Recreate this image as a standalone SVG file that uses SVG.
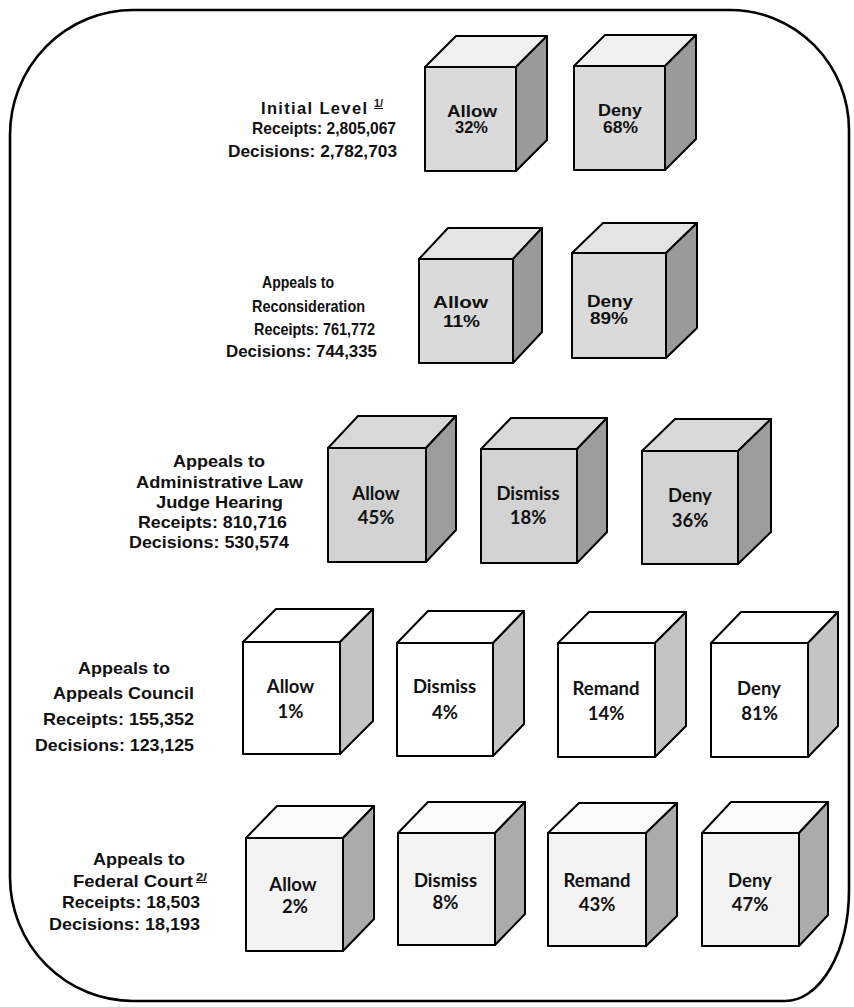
<svg xmlns="http://www.w3.org/2000/svg" width="854" height="1007" viewBox="0 0 854 1007">
<style>
.lbl{font-family:"Liberation Sans",Arial,sans-serif;font-weight:bold;fill:#111;}
.l17{font-size:17px;}
.l16{font-size:16.5px;}
.sup{font-family:"Liberation Sans",Arial,sans-serif;font-weight:bold;font-size:10px;text-decoration:underline;fill:#111;}
.ca{font-family:"Liberation Sans",Arial,sans-serif;font-weight:bold;font-size:16px;fill:#111;}
.ct{font-family:Lato,"Liberation Sans",sans-serif;font-weight:bold;font-size:18.5px;text-anchor:middle;fill:#111;}
.e{stroke:#000;stroke-width:2;stroke-linejoin:round;}
.f1{fill:#dadada}.t1{fill:#f0f0f0}.t2{fill:#e4e4e4}.r1{fill:#9a9a9a}
.f3{fill:#d2d2d2}.t3{fill:#d8d8d8}.r3{fill:#9c9c9c}
.f4{fill:#ffffff}.t4{fill:#ffffff}.r4{fill:#c4c4c4}
.f5{fill:#f3f3f3}.t5{fill:#fbfbfb}.r5{fill:#ababab}
.frame{fill:none;stroke:#000;stroke-width:2.6;}
</style>
<rect width="854" height="1007" fill="#fff"/>
<path class="frame" d="M133,10 L730,10 A119,120 0 0 1 849,130 L849,890 A64,111 0 0 1 785,1001 L133,1001 A123,124 0 0 1 10,877 L10,135 A123,125 0 0 1 133,10 Z"/>
<g id="connectors"/>

<!-- Row labels -->
<g id="label-initial" class="lbl l16">
<text x="261" y="114" textLength="106" lengthAdjust="spacing">Initial Level</text>
<text class="sup" x="374" y="107" textLength="9" lengthAdjust="spacingAndGlyphs">1/</text>
<text x="252" y="134" textLength="144" lengthAdjust="spacingAndGlyphs">Receipts:  2,805,067</text>
<text x="228" y="157" textLength="169" lengthAdjust="spacingAndGlyphs">Decisions:  2,782,703</text>
</g>
<g id="label-reconsideration" class="lbl l16">
<text x="262" y="288" textLength="72" lengthAdjust="spacingAndGlyphs">Appeals to</text>
<text x="252" y="312" textLength="113" lengthAdjust="spacingAndGlyphs">Reconsideration</text>
<text x="254" y="335" textLength="121" lengthAdjust="spacingAndGlyphs">Receipts: 761,772</text>
<text x="226" y="357" textLength="151" lengthAdjust="spacingAndGlyphs">Decisions: 744,335</text>
</g>
<g id="label-alj" class="lbl l16">
<text x="173" y="467" textLength="92" lengthAdjust="spacingAndGlyphs">Appeals to</text>
<text x="136" y="488" textLength="167" lengthAdjust="spacingAndGlyphs">Administrative Law</text>
<text x="156" y="508" textLength="127" lengthAdjust="spacingAndGlyphs">Judge Hearing</text>
<text x="138" y="528" textLength="149" lengthAdjust="spacingAndGlyphs">Receipts:  810,716</text>
<text x="129" y="548" textLength="160" lengthAdjust="spacingAndGlyphs">Decisions:  530,574</text>
</g>
<g id="label-council" class="lbl l17">
<text x="78" y="674" textLength="92" lengthAdjust="spacingAndGlyphs">Appeals to</text>
<text x="53" y="699" textLength="141" lengthAdjust="spacingAndGlyphs">Appeals Council</text>
<text x="43" y="725" textLength="151" lengthAdjust="spacingAndGlyphs">Receipts:  155,352</text>
<text x="35" y="751" textLength="159" lengthAdjust="spacingAndGlyphs">Decisions:  123,125</text>
</g>
<g id="label-court" class="lbl l17">
<text x="93" y="865" textLength="92" lengthAdjust="spacingAndGlyphs">Appeals to</text>
<text x="73" y="887" textLength="120" lengthAdjust="spacingAndGlyphs">Federal Court</text>
<text class="sup" x="196" y="881" textLength="11" lengthAdjust="spacingAndGlyphs">2/</text>
<text x="62" y="908" textLength="138" lengthAdjust="spacingAndGlyphs">Receipts:  18,503</text>
<text x="49" y="930" textLength="151" lengthAdjust="spacingAndGlyphs">Decisions:  18,193</text>
</g>

<!-- Row 1 -->
<g id="initial-allow">
<rect class="e f1" x="425" y="67" width="91" height="104"/>
<polygon class="e t1" points="425,67 456,36 547,36 516,67"/>
<polygon class="e r1" points="516,67 547,36 547,140 516,171"/>
<text class="ca" x="447" y="117" textLength="50" lengthAdjust="spacingAndGlyphs">Allow</text>
<text class="ca" x="455" y="133" textLength="33" lengthAdjust="spacingAndGlyphs">32%</text>
</g>
<g id="initial-deny">
<rect class="e f1" x="574" y="66" width="91" height="104"/>
<polygon class="e t1" points="574,66 605,35 696,35 665,66"/>
<polygon class="e r1" points="665,66 696,35 696,139 665,170"/>
<text class="ca" x="598" y="116" textLength="44" lengthAdjust="spacingAndGlyphs">Deny</text>
<text class="ca" x="603" y="133" textLength="35" lengthAdjust="spacingAndGlyphs">68%</text>
</g>

<!-- Row 2 -->
<g id="recon-allow">
<rect class="e f1" x="419" y="259" width="94" height="104"/>
<polygon class="e t2" points="419,259 448,228 542,228 513,259"/>
<polygon class="e r1" points="513,259 542,228 542,332 513,363"/>
<text class="ca" x="433" y="308" textLength="55" lengthAdjust="spacingAndGlyphs">Allow</text>
<text class="ca" x="443" y="327" textLength="37" lengthAdjust="spacingAndGlyphs">11%</text>
</g>
<g id="recon-deny">
<rect class="e f1" x="572" y="253" width="94" height="105"/>
<polygon class="e t2" points="572,253 603,223 697,223 666,253"/>
<polygon class="e r1" points="666,253 697,223 697,328 666,358"/>
<text class="ca" x="587" y="307" textLength="46" lengthAdjust="spacingAndGlyphs">Deny</text>
<text class="ca" x="590" y="324" textLength="38" lengthAdjust="spacingAndGlyphs">89%</text>
</g>

<!-- Row 3 -->
<g id="alj-allow">
<rect class="e f3" x="328" y="448" width="98" height="114"/>
<polygon class="e t3" points="328,448 358,416 456,416 426,448"/>
<polygon class="e r3" points="426,448 456,416 456,530 426,562"/>
<text class="ct" x="376" y="500">Allow</text>
<text class="ct" x="376" y="524">45%</text>
</g>
<g id="alj-dismiss">
<rect class="e f3" x="481" y="449" width="96" height="114"/>
<polygon class="e t3" points="481,449 511,418 607,418 577,449"/>
<polygon class="e r3" points="577,449 607,418 607,532 577,563"/>
<text class="ct" x="528" y="500">Dismiss</text>
<text class="ct" x="528" y="524">18%</text>
</g>
<g id="alj-deny">
<rect class="e f3" x="642" y="451" width="96" height="113"/>
<polygon class="e t3" points="642,451 675,419 771,419 738,451"/>
<polygon class="e r3" points="738,451 771,419 771,532 738,564"/>
<text class="ct" x="690" y="502">Deny</text>
<text class="ct" x="690" y="527">36%</text>
</g>

<!-- Row 4 -->
<g id="council-allow">
<rect class="e f4" x="243" y="642" width="97" height="112"/>
<polygon class="e t4" points="243,642 276,609 373,609 340,642"/>
<polygon class="e r4" points="340,642 373,609 373,721 340,754"/>
<text class="ct" x="290.5" y="693">Allow</text>
<text class="ct" x="290.5" y="718">1%</text>
</g>
<g id="council-dismiss">
<rect class="e f4" x="397" y="643" width="96" height="113"/>
<polygon class="e t4" points="397,643 428,611 524,611 493,643"/>
<polygon class="e r4" points="493,643 524,611 524,724 493,756"/>
<text class="ct" x="444.5" y="693">Dismiss</text>
<text class="ct" x="445" y="719">4%</text>
</g>
<g id="council-remand">
<rect class="e f4" x="558" y="643" width="97" height="114"/>
<polygon class="e t4" points="558,643 589,612 686,612 655,643"/>
<polygon class="e r4" points="655,643 686,612 686,726 655,757"/>
<text class="ct" x="606" y="695">Remand</text>
<text class="ct" x="606" y="720">14%</text>
</g>
<g id="council-deny">
<rect class="e f4" x="711" y="643" width="97" height="114"/>
<polygon class="e t4" points="711,643 741,612 838,612 808,643"/>
<polygon class="e r4" points="808,643 838,612 838,726 808,757"/>
<text class="ct" x="759" y="695">Deny</text>
<text class="ct" x="759.5" y="720">81%</text>
</g>

<!-- Row 5 -->
<g id="court-allow">
<rect class="e f5" x="246" y="838" width="97" height="113"/>
<polygon class="e t5" points="246,838 277,806 374,806 343,838"/>
<polygon class="e r5" points="343,838 374,806 374,919 343,951"/>
<text class="ct" x="293" y="891">Allow</text>
<text class="ct" x="295" y="913">2%</text>
</g>
<g id="court-dismiss">
<rect class="e f5" x="398" y="833" width="97" height="112"/>
<polygon class="e t5" points="398,833 428,802 525,802 495,833"/>
<polygon class="e r5" points="495,833 525,802 525,914 495,945"/>
<text class="ct" x="445.5" y="887">Dismiss</text>
<text class="ct" x="445.5" y="909">8%</text>
</g>
<g id="court-remand">
<rect class="e f5" x="548" y="833" width="98" height="113"/>
<polygon class="e t5" points="548,833 579,803 677,803 646,833"/>
<polygon class="e r5" points="646,833 677,803 677,916 646,946"/>
<text class="ct" x="597" y="887">Remand</text>
<text class="ct" x="597" y="911">43%</text>
</g>
<g id="court-deny">
<rect class="e f5" x="702" y="833" width="97" height="113"/>
<polygon class="e t5" points="702,833 731,802 828,802 799,833"/>
<polygon class="e r5" points="799,833 828,802 828,915 799,946"/>
<text class="ct" x="750" y="887">Deny</text>
<text class="ct" x="750" y="911">47%</text>
</g>
</svg>
